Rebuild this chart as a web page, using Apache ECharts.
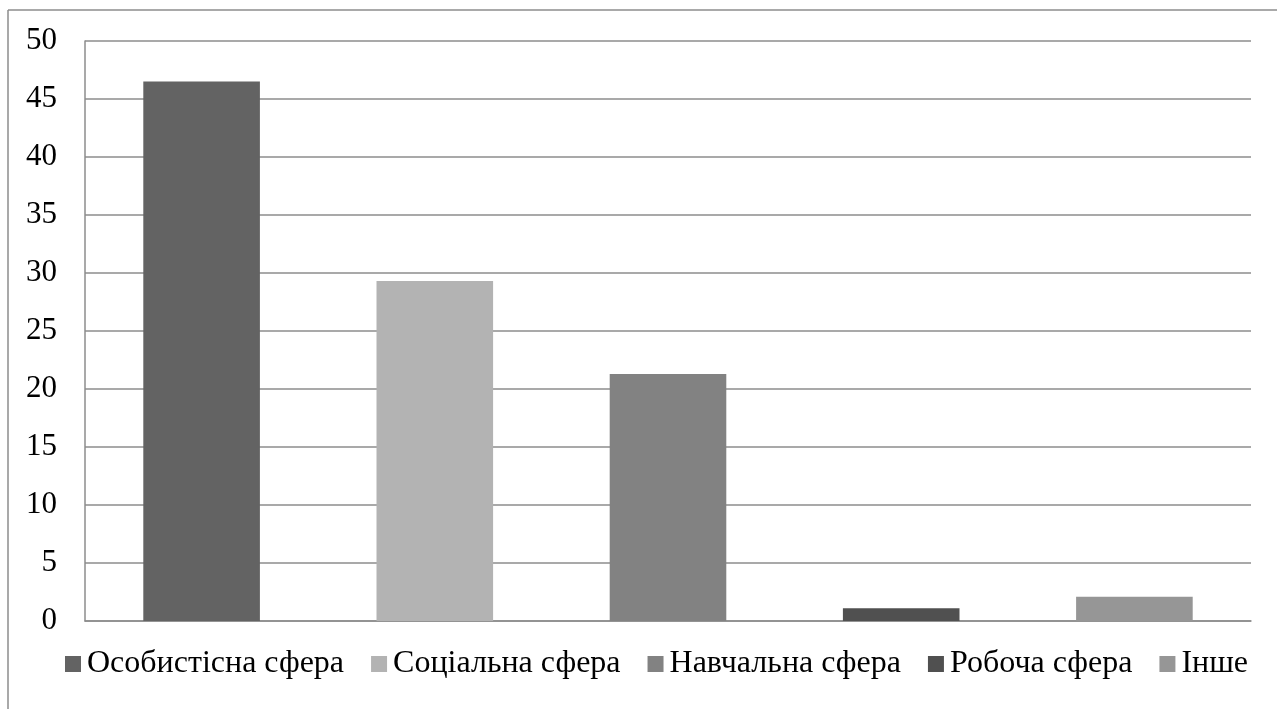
<!DOCTYPE html>
<html>
<head>
<meta charset="utf-8">
<script src="https://cdn.jsdelivr.net/npm/echarts@6/dist/echarts.min.js"></script>
<style>
html, body { margin: 0; padding: 0; background: #fff; }
#chart { width: 1277px; height: 709px; }
</style>
</head>
<body>
<div id="chart"></div>
<script>
var categories = ['Особистісна сфера', 'Соціальна сфера', 'Навчальна сфера', 'Робоча сфера', 'Інше'];
var values = [46.5, 29.3, 21.3, 1.1, 2.1];
var colors = ['#636363', '#b3b3b3', '#828282', '#505050', '#969696'];

var myChart = echarts.init(document.getElementById('chart'));
var series = [];
for (var n = 0; n < categories.length; n++) {
    var data = [];
    for (var k = 0; k < categories.length; k++) {
        data.push(k == n ? values[n] : '-');
    }
    series.push({
        name: categories[n],
        type: 'bar',
        stack: 'all',
        barWidth: '50%',
        data: data,
        itemStyle: {color: colors[n]}
    });
}

var option = {
    animation: false,
    textStyle: {fontFamily: 'Liberation Serif'},
    graphic: [
        {type: 'line', shape: {x1: 8, y1: 10, x2: 1277, y2: 10}, style: {stroke: '#8c8c8c', lineWidth: 1.5}},
        {type: 'line', shape: {x1: 8, y1: 10, x2: 8, y2: 709}, style: {stroke: '#8c8c8c', lineWidth: 1.5}}
    ],
    grid: {left: 85, right: 26, top: 41, bottom: 88},
    legend: {
        data: categories,
        top: 643,
        left: 60,
        itemWidth: 16,
        itemHeight: 16,
        itemGap: 27,
        icon: 'rect',
        textStyle: {fontFamily: 'Liberation Serif', fontSize: 32, color: '#000', padding: [0, 0, 0, 1]}
    },
    xAxis: {
        type: 'category',
        data: categories,
        axisLine: {lineStyle: {color: '#8c8c8c', width: 1.5}},
        axisTick: {show: false},
        axisLabel: {show: false}
    },
    yAxis: {
        type: 'value',
        min: 0,
        max: 50,
        interval: 5,
        axisLine: {show: true, lineStyle: {color: '#8c8c8c', width: 1.5}},
        axisTick: {show: false},
        axisLabel: {fontFamily: 'Liberation Serif', fontSize: 31, color: '#000', margin: 28},
        splitLine: {lineStyle: {color: '#8c8c8c', width: 1.5}}
    },
    series: series
};

myChart.setOption(option);
</script>
</body>
</html>
